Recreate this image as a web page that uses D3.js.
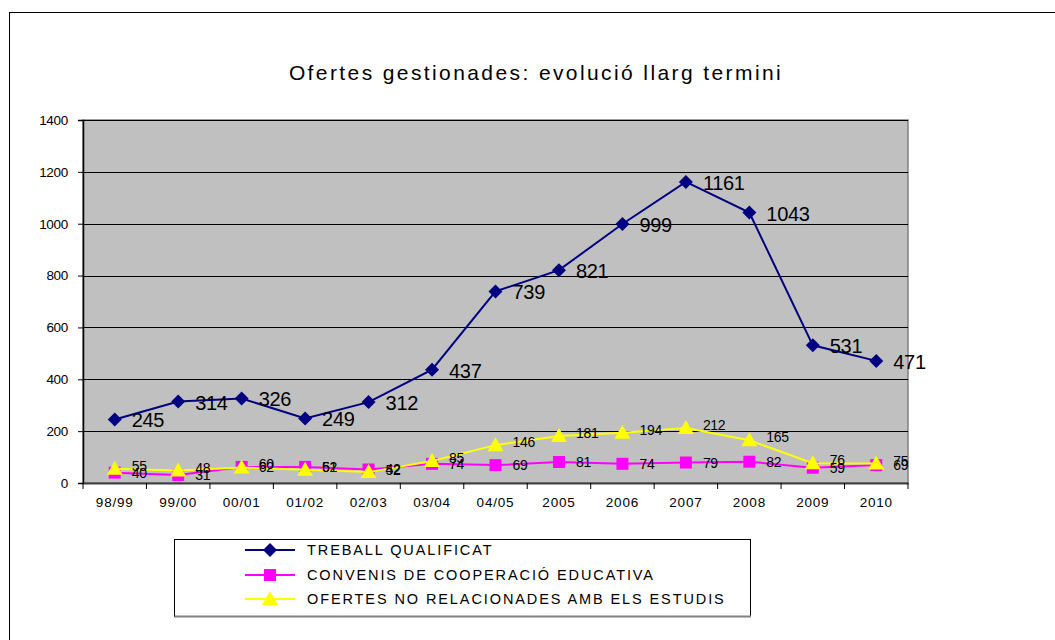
<!DOCTYPE html>
<html>
<head>
<meta charset="utf-8">
<script src="https://cdn.jsdelivr.net/npm/d3@7"></script>
<style>
	body { margin: 0; background: #fff; }
	svg text { font-family: "Liberation Sans", Arial, sans-serif; fill: #000; }
</style>
</head>
<body>
<div id="chart"></div>
<script>
//Chart data
var categories = ["98/99","99/00","00/01","01/02","02/03","03/04","04/05","2005","2006","2007","2008","2009","2010"];
var treball = [245, 314, 326, 249, 312, 437, 739, 821, 999, 1161, 1043, 531, 471];
var convenis = [40, 31, 62, 62, 52, 74, 69, 81, 74, 79, 82, 59, 69];
var ofertes = [55, 48, 60, 51, 42, 85, 146, 181, 194, 212, 165, 76, 75];
var yTicks = [0, 200, 400, 600, 800, 1000, 1200, 1400];
var seriesNames = ["TREBALL QUALIFICAT", "CONVENIS DE COOPERACIÓ EDUCATIVA", "OFERTES NO RELACIONADES AMB ELS ESTUDIS"];

var W = 1055, H = 640;
//Plot area
var plot = {left: 83, top: 120, right: 908, bottom: 483};

var svg = d3.select("#chart").append("svg")
	.attr("width", W).attr("height", H);

//Outer frame
svg.append("rect")
	.attr("x", 9.5).attr("y", 12.5)
	.attr("width", W + 20).attr("height", H + 20)
	.attr("fill", "none").attr("stroke", "#000").attr("stroke-width", 1);

//Title
svg.append("text")
	.attr("x", 536).attr("y", 80)
	.attr("text-anchor", "middle")
	.style("font-size", "21px")
	.style("letter-spacing", "2.4px")
	.text("Ofertes gestionades: evolució llarg termini");

//Scales
var x = d3.scaleBand().domain(categories).range([plot.left, plot.right]);
var y = d3.scaleLinear().domain([0, 1400]).range([plot.bottom, plot.top]);
var cx = function(i) { return x(categories[i]) + x.bandwidth() / 2; };

//Plot background
svg.append("rect")
	.attr("x", plot.left).attr("y", plot.top)
	.attr("width", plot.right - plot.left).attr("height", plot.bottom - plot.top)
	.attr("fill", "#c0c0c0")
	.attr("stroke", "#808080").attr("stroke-width", 1.5);

//Gridlines
svg.append("g").selectAll("line")
	.data(yTicks.filter(function(d) { return d > 0; }))
	.enter().append("line")
	.attr("x1", plot.left).attr("x2", plot.right)
	.attr("y1", function(d) { return Math.round(y(d)) + 0.5; })
	.attr("y2", function(d) { return Math.round(y(d)) + 0.5; })
	.attr("stroke", "#000").attr("stroke-width", 1);

//Y axis
var yAxis = svg.append("g")
	.attr("transform", "translate(" + plot.left + ",0)")
	.call(d3.axisLeft(y).tickValues(yTicks).tickFormat(d3.format("d")).tickSize(5).tickPadding(10));
yAxis.select(".domain").attr("stroke", "#000").attr("stroke-width", 1.5);
yAxis.selectAll("text").style("font-size", "13.5px").style("letter-spacing", "-0.3px");

//X axis, ticks on category boundaries
var xAxis = svg.append("g")
	.attr("transform", "translate(0," + plot.bottom + ")")
	.call(d3.axisBottom(x).tickSize(0).tickPadding(14));
xAxis.select(".domain").attr("stroke", "#404040").attr("stroke-width", 2);
xAxis.selectAll("text").style("font-size", "13.5px").style("letter-spacing", "0.8px");
svg.append("g").selectAll("line")
	.data(d3.range(categories.length + 1))
	.enter().append("line")
	.attr("x1", function(i) { return plot.left + i * x.bandwidth(); })
	.attr("x2", function(i) { return plot.left + i * x.bandwidth(); })
	.attr("y1", plot.bottom).attr("y2", plot.bottom + 6)
	.attr("stroke", "#000");

//Marker shapes (custom, Excel-like proportions)
var diamond = d3.symbol().type({draw: function(c) {
	c.moveTo(0, -7); c.lineTo(7, 0); c.lineTo(0, 7); c.lineTo(-7, 0); c.closePath();
}});
var square = d3.symbol().type({draw: function(c) {
	c.rect(-6, -6, 12, 12);
}});
var triangle = d3.symbol().type({draw: function(c) {
	c.moveTo(0, -8); c.lineTo(8, 6); c.lineTo(-8, 6); c.closePath();
}});

var series = [
	{values: treball, color: "#000080", symbol: diamond, font: 20, dy: 8},
	{values: convenis, color: "#ff00ff", symbol: square, font: 14, dy: 5},
	{values: ofertes, color: "#ffff00", symbol: triangle, font: 14, dy: 2}
];

var line = d3.line()
	.x(function(d, i) { return cx(i); })
	.y(function(d) { return y(d); });

//Series in order, later ones on top
series.forEach(function(s) {
	var g = svg.append("g");
	g.append("path")
		.datum(s.values)
		.attr("d", line)
		.attr("fill", "none")
		.attr("stroke", s.color).attr("stroke-width", 2);
	g.selectAll("path.mark")
		.data(s.values).enter().append("path")
		.attr("class", "mark")
		.attr("d", s.symbol)
		.attr("transform", function(d, i) { return "translate(" + cx(i) + "," + y(d) + ")"; })
		.attr("fill", s.color);
});

//Data labels
series.forEach(function(s) {
	svg.append("g").selectAll("text")
		.data(s.values).enter().append("text")
		.attr("x", function(d, i) { return cx(i) + 17; })
		.attr("y", function(d) { return y(d) + s.dy; })
		.style("font-size", s.font + "px")
		.style("letter-spacing", "-0.3px")
		.text(function(d) { return d; });
});

//Legend
var legend = svg.append("g");
legend.append("rect")
	.attr("x", 174.5).attr("y", 539.5)
	.attr("width", 576).attr("height", 77)
	.attr("fill", "#fff")
	.attr("stroke", "#000").attr("stroke-width", 1);
legend.append("line")
	.attr("x1", 174.5).attr("x2", 751).attr("y1", 616.5).attr("y2", 616.5)
	.attr("stroke", "#808080").attr("stroke-width", 2);
var rowY = [550, 575, 599];
series.forEach(function(s, k) {
	legend.append("line")
		.attr("x1", 245).attr("x2", 295)
		.attr("y1", rowY[k]).attr("y2", rowY[k])
		.attr("stroke", s.color).attr("stroke-width", 2);
	legend.append("path")
		.attr("d", s.symbol)
		.attr("transform", "translate(270," + rowY[k] + ")")
		.attr("fill", s.color);
	legend.append("text")
		.attr("x", 307).attr("y", rowY[k] + 5)
		.style("font-size", "14.5px")
		.style("letter-spacing", "1.9px")
		.text(seriesNames[k]);
});
</script>
</body>
</html>
